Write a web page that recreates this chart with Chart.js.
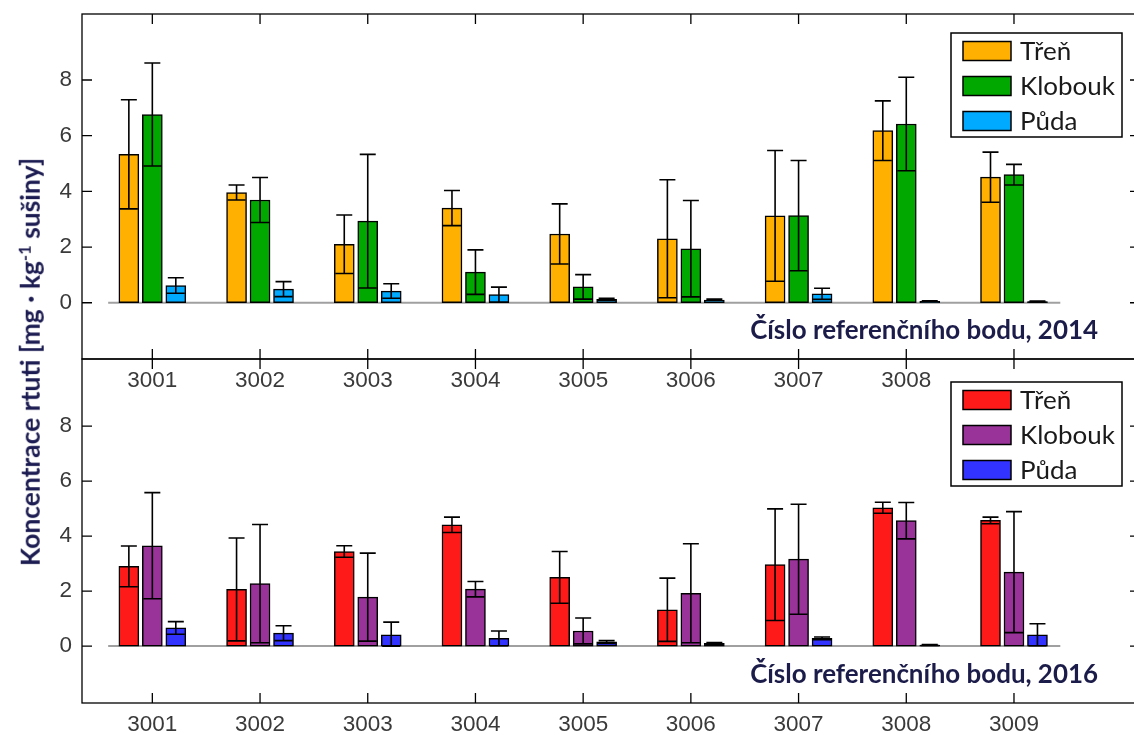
<!DOCTYPE html>
<html>
<head>
<meta charset="utf-8">
<script src="https://cdn.jsdelivr.net/npm/chart.js@4.4.1/dist/chart.umd.min.js"></script>
<style>
html, body { margin: 0; padding: 0; background: #fff; overflow: hidden; }
#wrap { position: relative; width: 1134px; height: 735px; overflow: hidden; }
canvas { position: absolute; left: 0; top: 0; }
#ylab {
    position: absolute; left: 30px; top: 362px;
    transform: translate(-50%, -50%) rotate(-90deg);
    white-space: nowrap; font-family: Lato, sans-serif; font-weight: 700;
    color: #1c1c52; font-size: 20px; line-height: 1;
}
#ylab sup { font-size: 0.62em; vertical-align: 0.55em; }
</style>
</head>
<body>
<div id="wrap">
    <canvas id="chart2014" width="1142" height="735"></canvas>
    <canvas id="chart2016" width="1142" height="735"></canvas>
    <div id="ylab">Koncentrace rtuti [mg · kg<sup>-1</sup> sušiny]</div>
</div>
<script>
/**
 * Categories
 */
const labels = ['3001', '3002', '3003', '3004', '3005', '3006', '3007', '3008', '3009'];
const seriesNames = ['Třeň', 'Klobouk', 'Půda'];
const yTicks = [0, 2, 4, 6, 8];

/**
 * 2014
 */
const tren2014 = [5.33, 3.96, 2.10, 3.40, 2.47, 2.30, 3.12, 6.18, 4.51];
const trenErr2014 = [1.96, 0.27, 1.05, 0.63, 1.08, 2.12, 2.35, 1.07, 0.90];
const klobouk2014 = [6.76, 3.69, 2.93, 1.10, 0.57, 1.94, 3.13, 6.42, 4.60];
const kloboukErr2014 = [1.85, 0.81, 2.40, 0.80, 0.44, 1.73, 1.98, 1.68, 0.37];
const puda2014 = [0.62, 0.49, 0.42, 0.29, 0.12, 0.10, 0.32, 0.05, 0.04];
const pudaErr2014 = [0.28, 0.27, 0.26, 0.27, 0.04, 0.03, 0.20, 0.02, 0.02];

/**
 * 2016
 */
const tren2016 = [2.90, 2.06, 3.44, 4.41, 2.50, 1.32, 2.96, 5.03, 4.57];
const trenErr2016 = [0.74, 1.87, 0.21, 0.28, 0.94, 1.15, 2.03, 0.20, 0.12];
const klobouk2016 = [3.65, 2.27, 1.78, 2.07, 0.55, 1.92, 3.16, 4.56, 2.69];
const kloboukErr2016 = [1.93, 2.15, 1.60, 0.28, 0.47, 1.80, 2.00, 0.66, 2.20];
const puda2016 = [0.66, 0.47, 0.41, 0.28, 0.15, 0.10, 0.28, 0.04, 0.41];
const pudaErr2016 = [0.23, 0.27, 0.46, 0.27, 0.05, 0.03, 0.05, 0.02, 0.40];

const colors2014 = ['#FFB000', '#00A800', '#00AAFF'];
const colors2016 = ['#FF1A1A', '#993399', '#3333FF'];

/**
 * Fit a font size so that text gets a given width
 */
const measureCtx = document.createElement('canvas').getContext('2d');
function fitSize(ctx, text, weight, family, width) {
    ctx.font = weight + ' 20px ' + family;
    return 20 * width / ctx.measureText(text).width;
}

const tickFamily = "'Liberation Sans Narrow', 'Liberation Sans', Arial, sans-serif";
const tickFont = { family: tickFamily, size: Math.min(26, fitSize(measureCtx, '3001', 'normal', tickFamily, 50)) };
const tickColor = '#3a3a3a';

/**
 * Error bars
 */
const errorBars = {
    id: 'errorBars',
    afterDatasetsDraw(chart) {
        const ctx = chart.ctx, y = chart.scales.y;
        ctx.save();
        ctx.strokeStyle = '#000';
        ctx.lineWidth = 1.6;
        chart.data.datasets.forEach((ds, di) => {
            chart.getDatasetMeta(di).data.forEach((bar, i) => {
                const v = ds.data[i].y, e = ds.errors[i];
                const top = y.getPixelForValue(v + e);
                const low = y.getPixelForValue(Math.max(v - e, 0));
                const half = bar.width / 2;
                ctx.beginPath();
                ctx.moveTo(bar.x, top);
                ctx.lineTo(bar.x, low);
                ctx.moveTo(bar.x - 8, top);
                ctx.lineTo(bar.x + 8, top);
                ctx.moveTo(bar.x - half + 1, low);
                ctx.lineTo(bar.x + half - 1, low);
                ctx.stroke();
            });
        });
        ctx.restore();
    }
};

/**
 * Frame, baseline, title, legend
 */
const frame = {
    id: 'frame',
    beforeDatasetsDraw(chart) {
        const { ctx, scales: { x, y } } = chart;
        const y0 = y.getPixelForValue(0);
        ctx.save();
        ctx.strokeStyle = '#a0a0a0';
        ctx.lineWidth = 2;
        ctx.beginPath();
        ctx.moveTo(x.getPixelForValue(0.59), y0);
        ctx.lineTo(x.getPixelForValue(9.43), y0);
        ctx.stroke();
        ctx.restore();
    },
    afterDraw(chart, args, opts) {
        const { ctx, chartArea: a, scales: { x, y } } = chart;
        ctx.save();

        // box and inward ticks
        ctx.strokeStyle = '#000';
        ctx.lineWidth = 1.3;
        ctx.strokeRect(a.left, a.top, a.right - a.left, a.bottom - a.top);
        ctx.beginPath();
        x.ticks.forEach(t => {
            const px = x.getPixelForValue(t.value);
            ctx.moveTo(px, a.top); ctx.lineTo(px, a.top + 10);
            ctx.moveTo(px, a.bottom); ctx.lineTo(px, a.bottom - 10);
        });
        y.ticks.forEach(t => {
            const py = y.getPixelForValue(t.value);
            ctx.moveTo(a.left, py); ctx.lineTo(a.left + 10, py);
            ctx.moveTo(a.right, py); ctx.lineTo(a.right - 10, py);
        });
        ctx.stroke();

        // axis title
        const tFam = "Lato, 'Open Sans', sans-serif";
        const tSize = fitSize(ctx, opts.title, 'bold', tFam, 348);
        ctx.font = 'bold ' + tSize + 'px ' + tFam;
        ctx.fillStyle = '#1c1c4a';
        ctx.textAlign = 'right';
        ctx.textBaseline = 'alphabetic';
        ctx.fillText(opts.title, 1098, a.bottom - 20);

        // legend
        const lx = 951, ly = a.top + opts.legendTop;
        ctx.fillStyle = '#fff';
        ctx.fillRect(lx, ly, 171, 104);
        ctx.lineWidth = 1.5;
        ctx.strokeStyle = '#000';
        ctx.strokeRect(lx, ly, 171, 104);
        const lFam = "Lato, 'Open Sans', sans-serif";
        const lSize = fitSize(ctx, 'Klobouk', 'normal', lFam, 95);
        chart.data.datasets.forEach((ds, i) => {
            const sy = ly + 8.5 + i * 35;
            ctx.fillStyle = ds.backgroundColor;
            ctx.fillRect(lx + 12, sy, 48, 19);
            ctx.strokeRect(lx + 12, sy, 48, 19);
            ctx.fillStyle = '#1a1a1a';
            ctx.font = lSize + 'px ' + lFam;
            ctx.textAlign = 'left';
            ctx.textBaseline = 'middle';
            ctx.fillText(ds.label, lx + 69, sy + 10);
        });
        ctx.restore();
    }
};

/**
 * Build datasets
 */
function makeDatasets(values, errors, colors) {
    const offsets = [-0.218, 0, 0.218];
    return values.map((vals, s) => ({
        label: seriesNames[s],
        data: vals.map((v, i) => ({ x: i + 1 + offsets[s], y: v })),
        errors: errors[s],
        backgroundColor: colors[s],
        borderColor: '#000',
        borderWidth: 1.5,
        borderSkipped: false,
        barThickness: 20,
        grouped: false
    }));
}

/**
 * Chart
 */
function makeChart(id, datasets, cfg) {
    return new Chart(document.getElementById(id), {
        type: 'bar',
        data: { datasets: datasets },
        options: {
            responsive: false,
            animation: false,
            devicePixelRatio: 1,
            layout: { padding: { top: cfg.top, right: 2, bottom: cfg.bottom, left: 0 } },
            plugins: {
                legend: { display: false },
                tooltip: { enabled: false },
                frame: { title: cfg.title, legendTop: cfg.legendTop }
            },
            scales: {
                x: {
                    type: 'linear',
                    min: 0.347,
                    max: 10.17,
                    offset: false,
                    grid: { display: false, drawTicks: false },
                    border: { display: false },
                    afterBuildTicks: axis => { axis.ticks = labels.map((l, i) => ({ value: i + 1 })); },
                    afterFit: scale => {
                        scale.height = cfg.axisHeight;
                        scale.paddingLeft = 0;
                        scale.paddingRight = 0;
                    },
                    ticks: {
                        autoSkip: false,
                        maxRotation: 0,
                        padding: 8,
                        font: tickFont,
                        color: tickColor,
                        callback: (value, index) => index < cfg.shownLabels ? labels[index] : ''
                    }
                },
                y: {
                    min: cfg.ymin,
                    max: cfg.ymax,
                    grid: { display: false, drawTicks: false },
                    border: { display: false },
                    afterBuildTicks: axis => { axis.ticks = yTicks.map(v => ({ value: v })); },
                    afterFit: scale => {
                        scale.width = 82;
                        scale.paddingTop = 0;
                        scale.paddingBottom = 0;
                    },
                    ticks: { padding: 10, font: tickFont, color: tickColor }
                }
            }
        },
        plugins: [frame, errorBars]
    });
}

makeChart('chart2014',
    makeDatasets([tren2014, klobouk2014, puda2014], [trenErr2014, kloboukErr2014, pudaErr2014], colors2014),
    { top: 14, bottom: 336, axisHeight: 40, ymin: -2.02, ymax: 10.37, shownLabels: 8,
      title: 'Číslo referenčního bodu, 2014', legendTop: 19 });

makeChart('chart2016',
    makeDatasets([tren2016, klobouk2016, puda2016], [trenErr2016, kloboukErr2016, pudaErr2016], colors2016),
    { top: 359, bottom: 0, axisHeight: 32, ymin: -2.07, ymax: 10.44, shownLabels: 9,
      title: 'Číslo referenčního bodu, 2016', legendTop: 23 });

/**
 * Y label size
 */
const ylab = document.getElementById('ylab');
ylab.style.fontSize = (20 * 408 / ylab.offsetWidth) + 'px';
</script>
</body>
</html>
